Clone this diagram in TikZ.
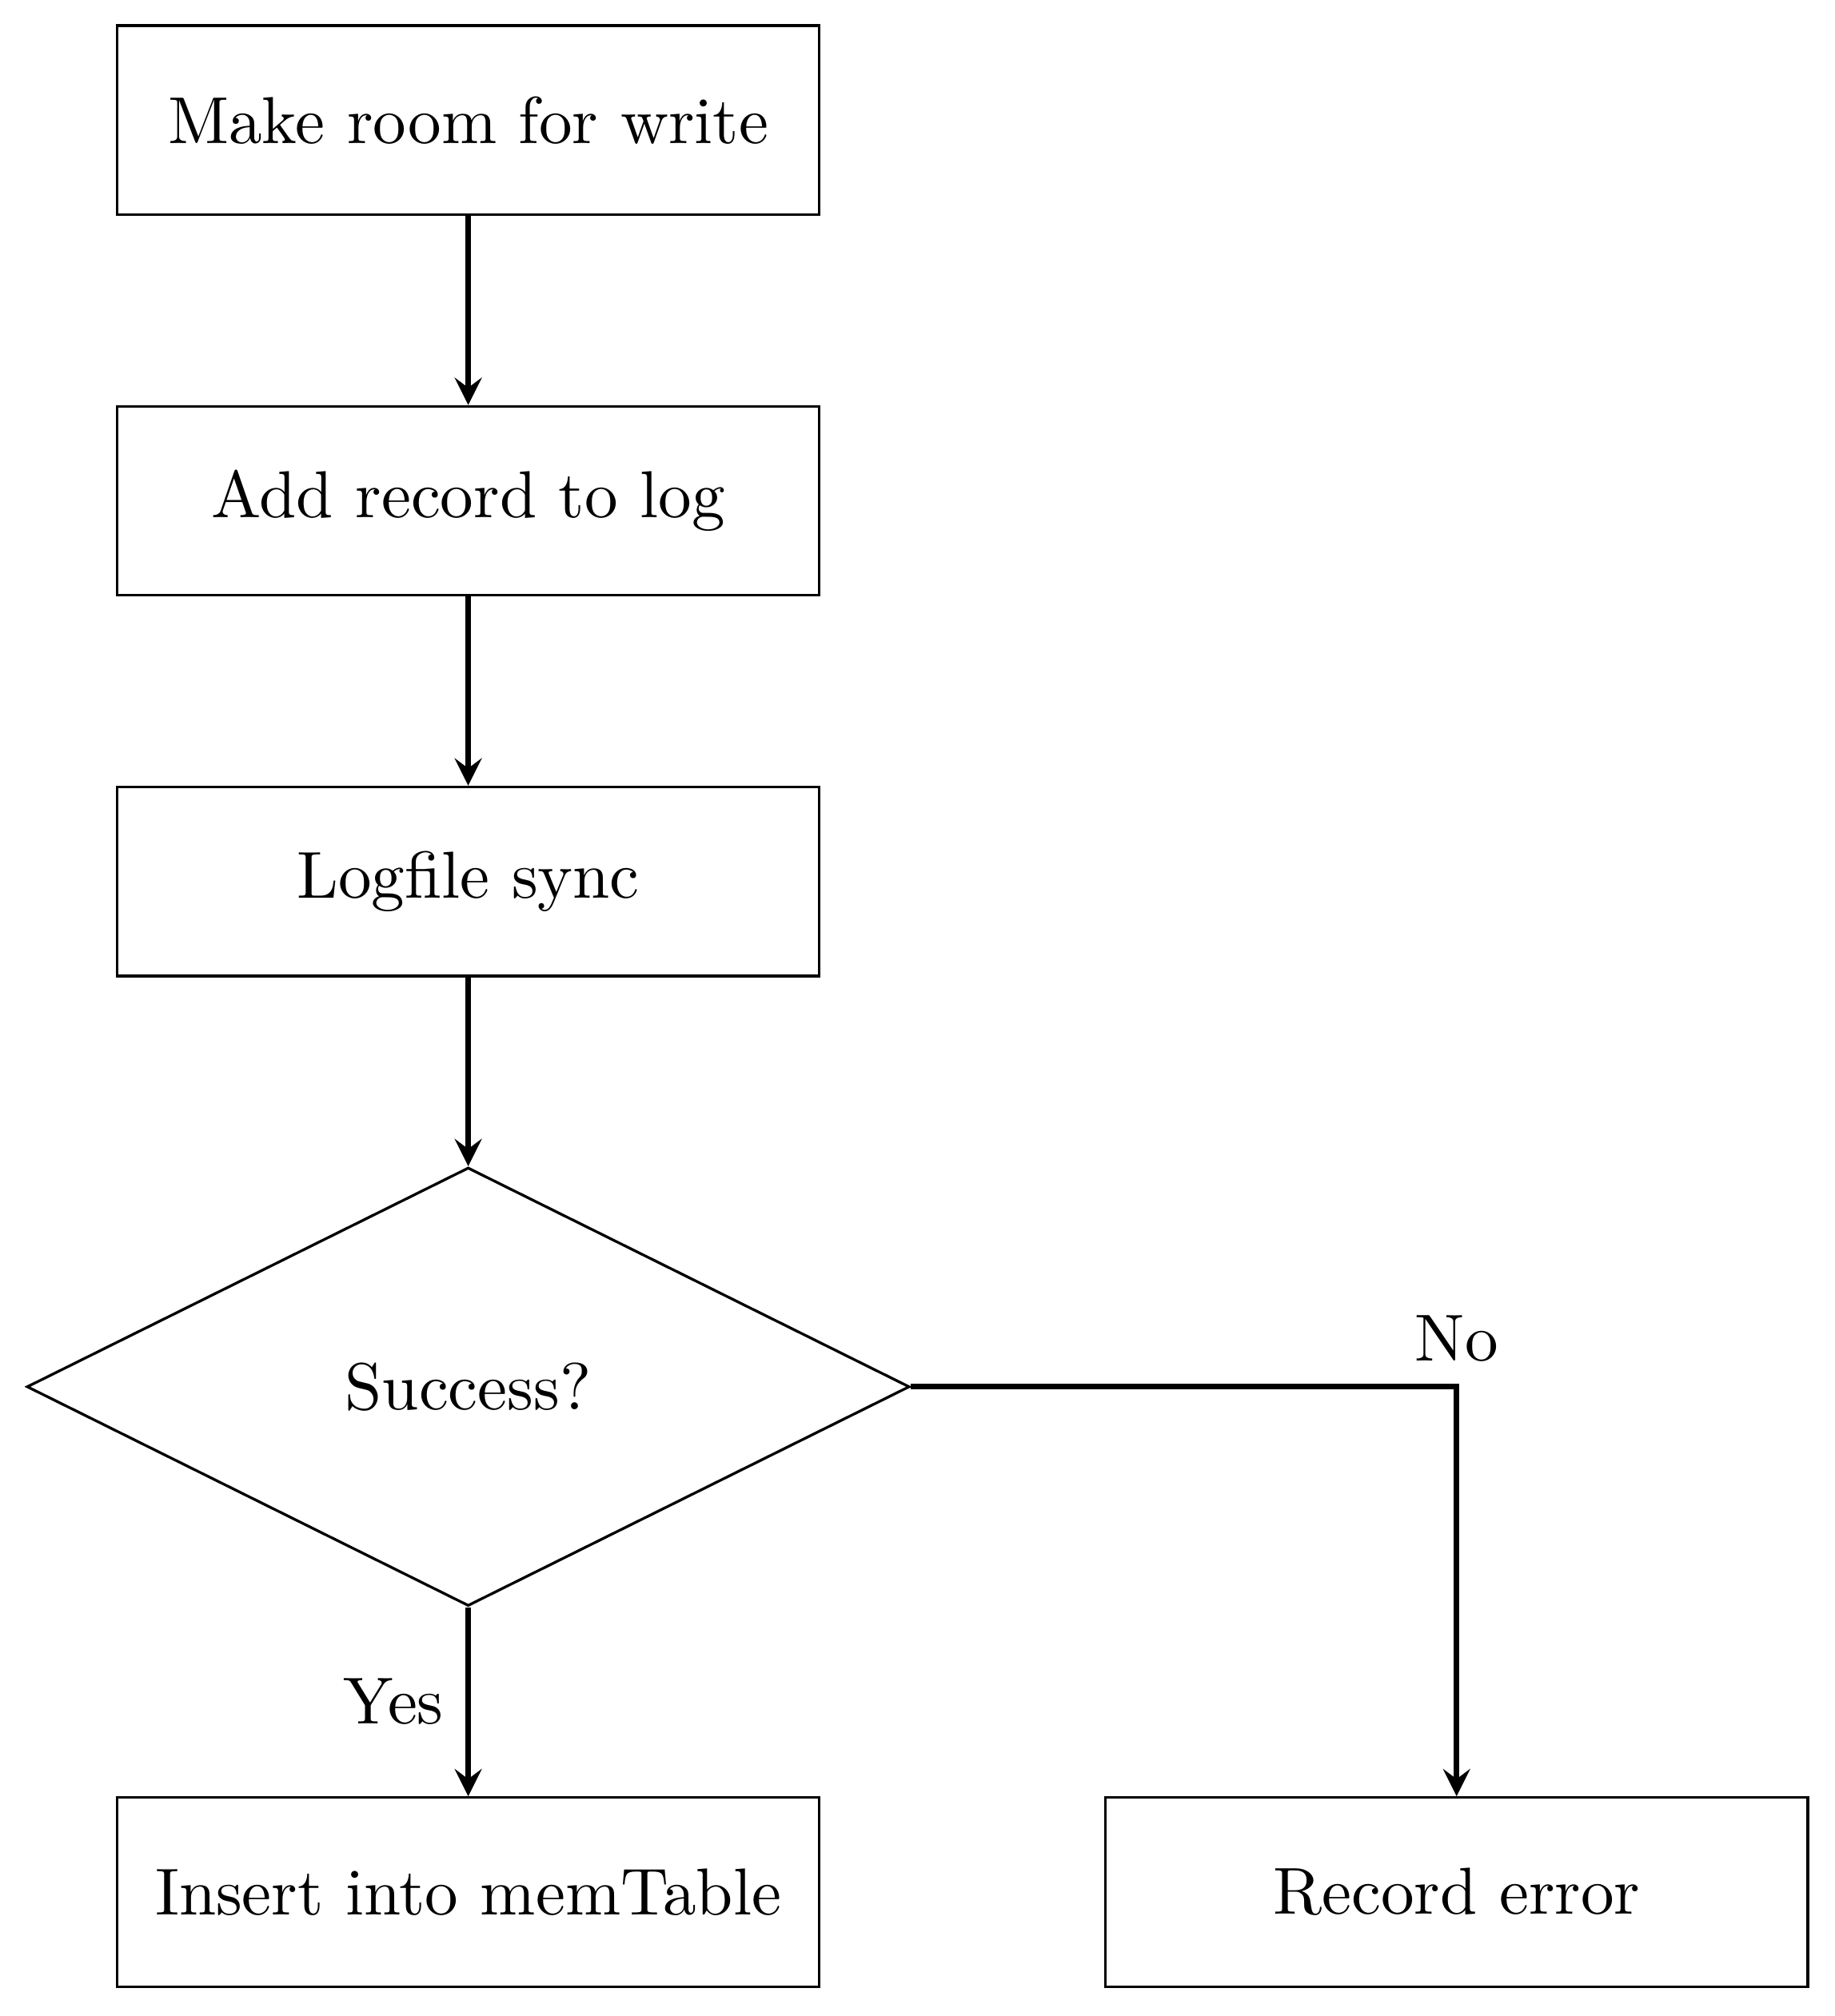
\documentclass[tikz,border=0pt]{standalone}
\usetikzlibrary{positioning,shapes.geometric,arrows}
\tikzset{
  block/.style={rectangle,draw,minimum width=3.715cm,minimum height=1cm,align=center},
  decision/.style={diamond,draw,minimum width=4.67cm,minimum height=2.32cm,inner sep=0pt},
  line/.style={draw,thick,-stealth}
}
\begin{document}
\begin{tikzpicture}[node distance=1cm]
        \useasboundingbox (-2.477,0.636) rectangle (7.227,-10.032);
        \node[block] (room) at (0,0) {Make room for write};
        \node[block,below=of room] (addlog) {Add record to log};
        \node[block,below=of addlog] (sync) {Logfile sync};
        \node[decision,below=of sync] (success) {Success?};
        \node[block,below=of success] (insert) {Insert into memTable};
        \node[block,right=1.5cm of insert] (error) {Record error};
        \path[line] (room)--(addlog);
        \path[line] (addlog)--(sync);
        \path[line] (sync)--(success);
        \path[line] (success)--node[left]{Yes}(insert);
        \path[line] (success.east)-|node[above]{No}(error.north);
    \end{tikzpicture}
\end{document}
